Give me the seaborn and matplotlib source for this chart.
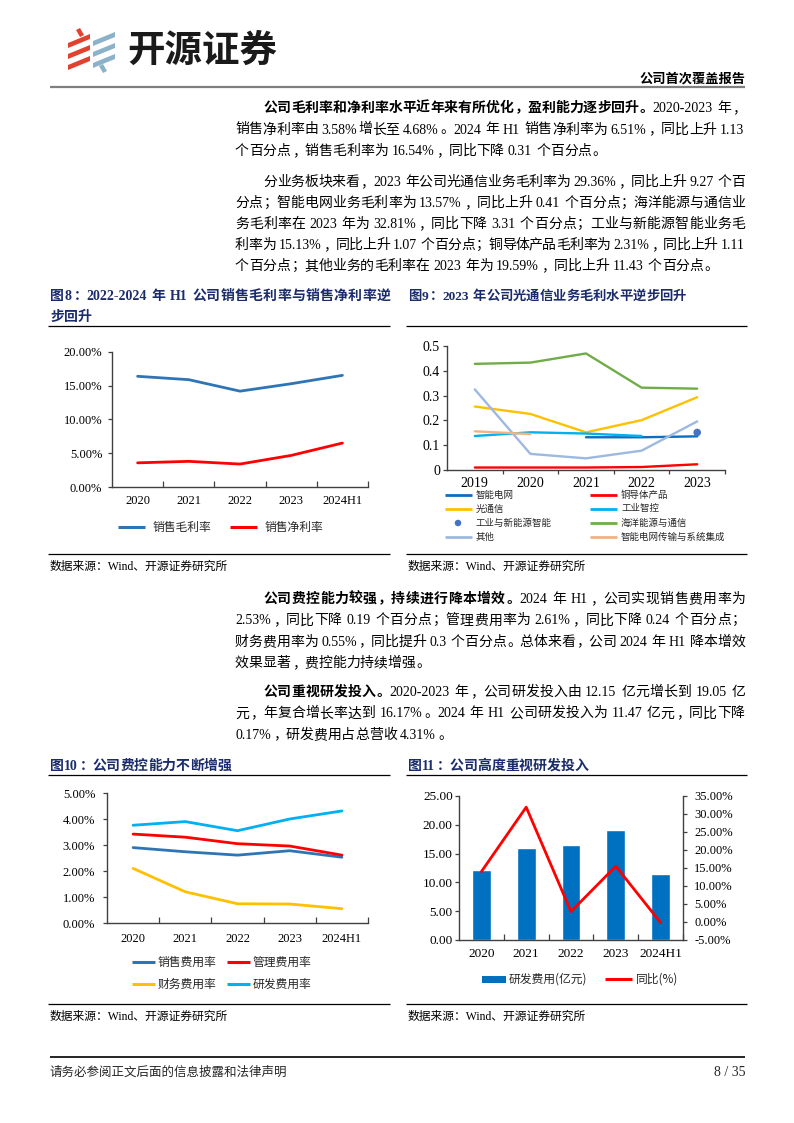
import re
import numpy as np
import pandas as pd
import seaborn as sns
import matplotlib.pyplot as plt
from matplotlib.patches import Polygon, Rectangle

sns.set_theme(style='white')
plt.rcParams['font.family'] = ['Liberation Serif', 'Noto Sans CJK SC']
plt.rcParams['axes.unicode_minus'] = False

# ---------------- data ----------------
years_a = ['2020', '2021', '2022', '2023', '2024H1']
gross_margin = [16.4, 15.9, 14.2, 15.3, 16.54]
net_margin = [3.58, 3.8, 3.4, 4.68, 6.51]

years_b = ['2019', '2020', '2021', '2022', '2023']
seg_names = ['智能电网', '铜导体产品', '光通信', '工业智控',
             '工业与新能源智能', '海洋能源与通信', '其他', '智能电网传输与系统集成']
seg_smart_grid = [np.nan, np.nan, 0.132, 0.132, 0.1357]
seg_copper = [0.010, 0.010, 0.010, 0.012, 0.0231]
seg_optical = [0.256, 0.226, 0.152, 0.201, 0.2936]
seg_ind_ctrl = [0.137, 0.152, 0.147, 0.137, np.nan]
seg_new_energy = [np.nan, np.nan, np.nan, np.nan, 0.1513]
seg_marine = [0.428, 0.433, 0.470, 0.332, 0.328]
seg_other = [0.325, 0.065, 0.047, 0.078, 0.196]
seg_grid_integ = [0.156, 0.145, np.nan, np.nan, np.nan]
seg_colors = ['#0F6DBF', '#FF0000', '#FFC000', '#00B0F0',
              '#4472C4', '#70AD47', '#9DB9E0', '#F4B183']

exp_names = ['销售费用率', '管理费用率', '财务费用率', '研发费用率']
sales_rate = [2.90, 2.74, 2.61, 2.78, 2.53]
admin_rate = [3.42, 3.30, 3.05, 2.96, 2.61]
fin_rate = [2.10, 1.20, 0.74, 0.73, 0.55]
rd_rate = [3.76, 3.90, 3.55, 4.00, 4.31]
exp_colors = ['#2E75B6', '#FF0000', '#FFC000', '#00B0F0']

rd_spend = [12.15, 16.03, 16.49, 19.05, 11.47]
rd_yoy = [14.0, 31.9, 2.9, 15.5, -0.17]

# ---------------- page ----------------
W, H = 794, 1123
fig = plt.figure(figsize=(W / 100, H / 100), dpi=100)
bg = fig.add_axes([0, 0, 1, 1])
bg.set_xlim(0, W)
bg.set_ylim(H, 0)
bg.axis('off')
renderer = fig.canvas.get_renderer()

LAT = 'Liberation Serif'
CJK = 'Noto Sans CJK SC'
NAVY = '#1A2C6B'
SPINE = '#404040'
PUNCT = '，。；：、'
tok_re = re.compile(r'[!-~]+| |.')


def rect(l, t, r, b):
    return [l / W, 1 - b / H, (r - l) / W, (b - t) / H]


def text_line(x0, y, segs, size=10, color='black', right=None):
    em = size * 100 / 72
    base = y + 0.36 * em
    items = []
    for s, bold in segs:
        for tok in tok_re.findall(s):
            items.append((tok, 'bold' if bold else 'normal'))
    arts, widths = [], []
    for tok, wt in items:
        if tok == ' ':
            arts.append(None)
            widths.append(0.25 * em)
        elif ord(tok[0]) > 127:
            t = bg.text(0, base, tok, fontsize=size, fontweight=wt, color=color,
                        family=CJK, va='baseline',
                        ha='left' if tok in PUNCT else 'center')
            arts.append(t)
            widths.append(em)
        else:
            t = bg.text(0, base, tok, fontsize=size, fontweight=wt, color=color,
                        family=LAT, va='baseline', ha='left')
            arts.append(t)
            widths.append(t.get_window_extent(renderer).width + 0.06 * em)
    gap = 0
    if right is not None and len(items) > 1:
        gap = (right - x0 - sum(widths)) / (len(items) - 1)
    x = x0
    for (tok, wt), t, w in zip(items, arts, widths):
        if t is not None:
            if tok in PUNCT:
                t.set_x(x + 0.08 * em)
            elif ord(tok[0]) > 127:
                t.set_x(x + w / 2)
            else:
                t.set_x(x)
        x += w + gap


def paragraph(lines, y0, step, right=745):
    for i, (x0, segs) in enumerate(lines):
        last = i == len(lines) - 1
        text_line(x0, y0 + i * step, segs, right=None if last else right)


def hline(x1, x2, y, color='black', lw=0.9):
    bg.plot([x1, x2], [y, y], color=color, lw=lw, solid_capstyle='butt')


# header / logo
for i, yb in enumerate([34, 45, 56]):
    bg.add_patch(Polygon([(68, yb + 9), (90, yb), (90, yb + 5), (68, yb + 14)],
                         closed=True, color='#E1412F', lw=0))
    bg.add_patch(Polygon([(93, yb + 7), (115, yb - 2), (115, yb + 3), (93, yb + 12)],
                         closed=True, color='#8BB2C9', lw=0))
bg.add_patch(Polygon([(76, 30), (80, 28), (84, 35), (80, 37)], closed=True, color='#E1412F', lw=0))
bg.add_patch(Polygon([(99, 66), (103, 64), (107, 71), (103, 73)], closed=True, color='#8BB2C9', lw=0))
bg.text(127, 50, '开源证券', fontsize=27, fontweight='bold', family=CJK,
        color='#1A1A1A', va='center', ha='left')
bg.text(745, 79, '公司首次覆盖报告', fontsize=9.5, fontweight='bold', family=CJK,
        color='black', va='center', ha='right')
hline(50, 745, 87, color='#7F7F7F', lw=1.6)

# body text
paragraph([
    (263, [('公司毛利率和净利率水平近年来有所优化，盈利能力逐步回升。', True), ('2020-2023 年，', False)]),
    (235, [('销售净利率由 3.58%增长至 4.68%。2024 年 H1 销售净利率为 6.51%，同比上升 1.13', False)]),
    (235, [('个百分点，销售毛利率为 16.54%，同比下降 0.31 个百分点。', False)]),
], 107, 21.5)
paragraph([
    (263, [('分业务板块来看，2023 年公司光通信业务毛利率为 29.36%，同比上升 9.27 个百', False)]),
    (235, [('分点；智能电网业务毛利率为 13.57%，同比上升 0.41 个百分点；海洋能源与通信业', False)]),
    (235, [('务毛利率在 2023 年为 32.81%，同比下降 3.31 个百分点；工业与新能源智能业务毛', False)]),
    (235, [('利率为 15.13%，同比上升 1.07 个百分点；铜导体产品毛利率为 2.31%，同比上升 1.11', False)]),
    (235, [('个百分点；其他业务的毛利率在 2023 年为 19.59%，同比上升 11.43 个百分点。', False)]),
], 181, 21)
paragraph([
    (263, [('公司费控能力较强，持续进行降本增效。', True), ('2024 年 H1，公司实现销售费用率为', False)]),
    (235, [('2.53%，同比下降 0.19 个百分点；管理费用率为 2.61%，同比下降 0.24 个百分点；', False)]),
    (235, [('财务费用率为 0.55%，同比提升 0.3 个百分点。总体来看，公司 2024 年 H1 降本增效', False)]),
    (235, [('效果显著，费控能力持续增强。', False)]),
], 598, 21.3)
paragraph([
    (263, [('公司重视研发投入。', True), ('2020-2023 年，公司研发投入由 12.15 亿元增长到 19.05 亿', False)]),
    (235, [('元，年复合增长率达到 16.17%。2024 年 H1 公司研发投入为 11.47 亿元，同比下降', False)]),
    (235, [('0.17%，研发费用占总营收 4.31%。', False)]),
], 691, 21.3)

# chart titles and rules
text_line(50, 295, [('图8：2022-2024 年 H1 公司销售毛利率与销售净利率逆', True)], size=10, color=NAVY, right=390)
text_line(50, 316, [('步回升', True)], size=10, color=NAVY)
text_line(408, 295, [('图9：2023 年公司光通信业务毛利水平逆步回升', True)], size=9.6, color=NAVY)
text_line(50, 765, [('图10：公司费控能力不断增强', True)], size=10, color=NAVY)
text_line(408, 765, [('图11：公司高度重视研发投入', True)], size=10, color=NAVY)
for y in (326, 554, 775, 1004):
    hline(48, 390, y)
    hline(406, 747, y)
for x, y in [(50, 567), (408, 567), (50, 1017), (408, 1017)]:
    bg.text(x, y, '数据来源：Wind、开源证券研究所', fontsize=8.5, va='center', ha='left', color='black')

# footer
hline(50, 745, 1057, lw=1.2)
bg.text(50, 1072, '请务必参阅正文后面的信息披露和法律声明', fontsize=9, family=CJK, va='center', ha='left')
bg.text(745, 1072, '8 / 35', fontsize=10, family=LAT, va='center', ha='right')


def style_axes(ax, ylim, yticks, fmt, xlabels, xdir='in', lsize=9, xpad=6, ypad=4):
    ax.set_xlim(-0.5, len(xlabels) - 0.5)
    ax.set_ylim(*ylim)
    ax.set_yticks(yticks)
    ax.set_yticklabels([fmt(v) for v in yticks])
    ax.set_xticks(range(len(xlabels)))
    ax.set_xticklabels(xlabels)
    ax.set_xticks(np.arange(0.5, len(xlabels), 1), minor=True)
    ax.tick_params(axis='x', which='major', bottom=True, length=0, pad=xpad,
                   labelsize=lsize, labelcolor='black')
    ax.tick_params(axis='x', which='minor', bottom=True, length=4, width=0.9,
                   direction=xdir, color=SPINE)
    ax.tick_params(axis='y', which='major', left=True, length=3, width=0.9,
                   direction='out', color=SPINE, pad=ypad, labelsize=lsize, labelcolor='black')
    for s in ('top', 'right'):
        ax.spines[s].set_visible(False)
    for s in ('left', 'bottom'):
        ax.spines[s].set_color(SPINE)
        ax.spines[s].set_linewidth(1.0)
    ax.set_xlabel('')
    ax.set_ylabel('')
    ax.grid(False)
    ax.patch.set_alpha(0)


def pct(v):
    return f'{v:.2f}%'


def leg_line(x1, x2, y, color, label, size=8.5, tx=None, lw=2.2):
    bg.plot([x1, x2], [y, y], color=color, lw=lw, solid_capstyle='butt')
    bg.text(tx if tx else x2 + 6, y, label, fontsize=size, family=CJK, va='center', ha='left')


# ---------------- chart 8 ----------------
ax8 = fig.add_axes(rect(112, 352, 368, 487))
df8 = pd.DataFrame({'pos': range(len(years_a)), '销售毛利率': gross_margin, '销售净利率': net_margin})
long8 = df8.melt(id_vars='pos', var_name='series', value_name='value')
pal8 = {'销售毛利率': '#2E75B6', '销售净利率': '#FF0000'}
sns.lineplot(data=long8, x='pos', y='value', hue='series', palette=pal8,
             linewidth=2.0, legend=False, ax=ax8)
style_axes(ax8, (0, 20), np.arange(0, 21, 5), pct, years_a, xpad=6, ypad=4)
leg_line(118, 145, 527, pal8['销售毛利率'], '销售毛利率', tx=153)
leg_line(230, 257, 527, pal8['销售净利率'], '销售净利率', tx=265)

# ---------------- chart 9 ----------------
ax9 = fig.add_axes(rect(447, 346, 725, 470))
seg_values = [seg_smart_grid, seg_copper, seg_optical, seg_ind_ctrl,
              seg_new_energy, seg_marine, seg_other, seg_grid_integ]
df9 = pd.DataFrame({n: v for n, v in zip(seg_names, seg_values)})
df9['pos'] = range(len(years_b))
long9 = df9.melt(id_vars='pos', var_name='series', value_name='value').dropna()
pal9 = dict(zip(seg_names, seg_colors))
line_long9 = long9[long9['series'] != '工业与新能源智能']
sns.lineplot(data=line_long9, x='pos', y='value', hue='series', palette=pal9,
             linewidth=1.7, legend=False, ax=ax9)
dot9 = long9[long9['series'] == '工业与新能源智能']
sns.scatterplot(data=dot9, x='pos', y='value', color=pal9['工业与新能源智能'],
                s=30, edgecolor='none', legend=False, ax=ax9, zorder=5)
style_axes(ax9, (0, 0.5), np.arange(0, 0.51, 0.1),
           lambda v: '0' if abs(v) < 1e-9 else f'{v:.1f}', years_b,
           xdir='out', lsize=10, xpad=5, ypad=2)
ax9.tick_params(axis='x', which='minor', length=3)
rows9 = [495, 509, 523, 537]
for i, (name, color) in enumerate(zip(seg_names, seg_colors)):
    y = rows9[i // 2]
    x1 = 445 if i % 2 == 0 else 590
    if name == '工业与新能源智能':
        bg.scatter([x1 + 13], [y], s=22, color=color, edgecolor='none')
        bg.text(x1 + 31, y, name, fontsize=6.8, family=CJK, va='center', ha='left')
    else:
        leg_line(x1, x1 + 27, y, color, name, size=6.8, tx=x1 + 31, lw=2.0)

# ---------------- chart 10 ----------------
ax10 = fig.add_axes(rect(107, 793, 368, 923))
df10 = pd.DataFrame({n: v for n, v in zip(exp_names, [sales_rate, admin_rate, fin_rate, rd_rate])})
df10['pos'] = range(len(years_a))
long10 = df10.melt(id_vars='pos', var_name='series', value_name='value')
pal10 = dict(zip(exp_names, exp_colors))
sns.lineplot(data=long10, x='pos', y='value', hue='series', palette=pal10,
             linewidth=2.0, legend=False, ax=ax10)
style_axes(ax10, (0, 5), np.arange(0, 5.01, 1), pct, years_a, xpad=7.5, ypad=5.5)
for i, (name, color) in enumerate(zip(exp_names, exp_colors)):
    y = [962, 984][i // 2]
    x1 = [132, 227][i % 2]
    leg_line(x1, x1 + 23, y, color, name, tx=x1 + 26)

# ---------------- chart 11 ----------------
ax11 = fig.add_axes(rect(459, 796, 683, 940))
sns.barplot(x=years_a, y=rd_spend, color='#0070C0', saturation=1, width=0.42, ax=ax11)
ax11r = ax11.twinx()
sns.lineplot(x=list(range(len(years_a))), y=rd_yoy, color='#FF0000', linewidth=2.0, ax=ax11r)
style_axes(ax11, (0, 25), np.arange(0, 26, 5), lambda v: f'{v:.2f}', years_a,
           lsize=9.5, xpad=6, ypad=1.5)
ax11r.set_xlim(-0.5, len(years_a) - 0.5)
ax11r.set_ylim(-5, 35)
ax11r.set_yticks(np.arange(-5, 36, 5))
ax11r.set_yticklabels([pct(v) for v in np.arange(-5, 36, 5)])
ax11r.tick_params(axis='y', right=True, length=3, width=0.9, direction='out',
                  color=SPINE, pad=5, labelsize=9, labelcolor='black')
for s in ('top', 'left', 'bottom'):
    ax11r.spines[s].set_visible(False)
ax11r.spines['right'].set_color(SPINE)
ax11r.spines['right'].set_linewidth(1.0)
ax11r.set_ylabel('')
ax11r.grid(False)
bg.add_patch(Rectangle((482, 976), 24, 7, color='#0070C0', lw=0))
bg.text(509, 979, '研发费用(亿元)', fontsize=8.5, family=CJK, va='center', ha='left')
leg_line(605, 632, 979, '#FF0000', '同比(%)', tx=636)

fig.savefig('out.png', dpi=100)
